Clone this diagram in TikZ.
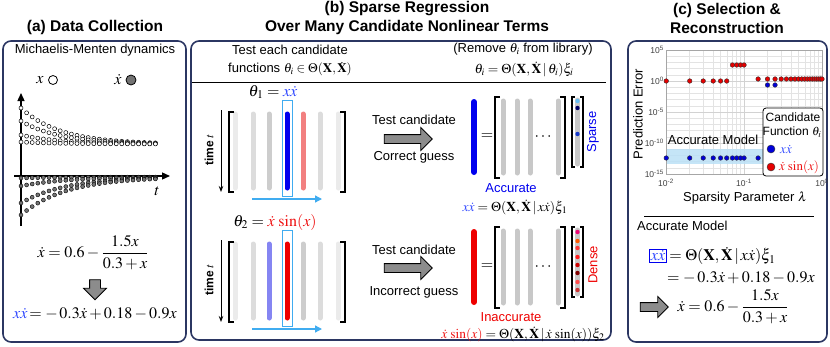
\documentclass[tikz,border=0pt]{standalone}
\usepackage{amsmath}
\usepackage{mathptmx}
\usepackage[no-math]{fontspec}
\setmainfont{Liberation Sans}
\usetikzlibrary{arrows.meta,shapes.arrows,positioning}

\definecolor{navy}{HTML}{2B3662}
\definecolor{gA}{HTML}{EBEBEB}
\definecolor{gB}{HTML}{DCDCDC}
\definecolor{gC}{HTML}{CDCDCD}
\definecolor{gM}{HTML}{C8C8C8}
\definecolor{pblue}{HTML}{0000EE}
\definecolor{pred}{HTML}{EE0000}
\definecolor{lred}{HTML}{F28080}
\definecolor{lblue}{HTML}{8585F2}
\definecolor{sky}{HTML}{40ACF0}
\definecolor{eqblue}{HTML}{3048FF}
\definecolor{eqred}{HTML}{EE1111}
\definecolor{band}{HTML}{BBE0F6}

\newcommand{\xd}{\dot{x}}
\newcommand{\Tht}{\boldsymbol{\Theta}}
\newcommand{\Xm}{\mathbf{X}}
\newcommand{\Xdm}{\dot{\mathbf{X}}}
\newcommand{\lamx}[1]{666+78*(log10(#1)+2)}
\newcommand{\erry}[1]{50+6.2*(5-(#1))}

\begin{document}
\begin{tikzpicture}[x=1pt, y=-1pt,
  pnl/.style={draw=navy, line width=1.6pt, rounded corners=8pt},
  ttl/.style={font=\fontsize{15.5}{19}\selectfont\bfseries, align=center},
  txt/.style={font=\fontsize{13}{15}\selectfont, inner sep=1pt},
  eq/.style={font=\fontsize{16}{18}\selectfont, inner sep=1pt},
  eqs/.style={font=\fontsize{13.5}{16}\selectfont, inner sep=1pt},
  bar/.style={line width=5pt, line cap=round},
  brk/.style={line width=1.2pt},
  garr/.style={single arrow, draw=black, fill=gray!90, line width=0.8pt,
    inner sep=4pt, single arrow head extend=7pt, minimum height=48pt},
  grd/.style={gray!22, line width=0.3pt},
  odot/.style={draw=black, fill=white, line width=0.5pt},
  fdot/.style={draw=black, fill=gray!90!black, line width=0.4pt},
  rdot/.style={draw=black!80, fill=red!90!black, line width=0.4pt},
  bdot/.style={draw=black!80, fill=blue!85!black, line width=0.4pt}]

\useasboundingbox (0,0) rectangle (830,346);

% --- (a) Data collection ---
\node[ttl] (ta) at (95,27) {(a) Data Collection};
\draw[pnl] (3,41) rectangle (186,342);
\node[txt] (mm) at (95,50) {Michaelis-Menten dynamics};
\node[eq] (lxa) at (40,80) {$x$};
\node[circle, odot, line width=0.8pt, minimum size=9pt, inner sep=0pt] (ox) at (53,80) {};
\node[eq] (lxb) at (118,80) {$\xd$};
\node[circle, fdot, line width=0.8pt, minimum size=10pt, inner sep=0pt] (fx) at (131,80) {};

\draw[line width=1.3pt, -{Triangle[length=8pt,width=7pt]}] (21,226) -- (21,93);
\draw[line width=1.3pt, -{Triangle[length=8pt,width=7pt]}] (14,176) -- (170,176);
\foreach \s in {108,121,135,142}
  \foreach \k in {0,...,24}
    \draw[odot] ({21+\k*5.6},{144+(\s-144)*exp(-\k/7)}) circle (2pt);
\foreach \s in {178,186,203,215}
  \foreach \k in {0,...,24}
    \draw[fdot] ({21+\k*5.6},{177+(\s-177)*exp(-\k/8)}) circle (2pt);
\node[eq] (tl) at (157,191) {$t$};

\node[eq] (eqa) at (93,253) {$\xd = 0.6 - \dfrac{1.5x}{0.3+x}$};
\node[garr, shape border rotate=270, minimum height=20pt, inner sep=5pt,
  single arrow head extend=6pt] (da) at (95,287) {};
\node[eq] (eqb) at (95,314) {$\textcolor{eqblue}{x\xd}\!=-\,0.3\xd+0.18-0.9x$};

% --- (b) Sparse regression ---
\node[ttl] (tb) at (407,18) {(b) Sparse Regression\\Over Many Candidate Nonlinear Terms};
\draw[pnl] (191,41) rectangle (611,340);
\node[txt] (h1) at (290,50) {Test each candidate};
\node[txt] (h2) at (290,69) {functions $\theta_i \in \Tht(\Xm,\Xdm)$};
\node[txt] (h3) at (523,49) {(Remove $\theta_i$ from library)};
\node[eqs] (h4) at (524,69) {$\theta_i = \Tht(\Xm,\Xdm\,|\,\theta_i)\xi_i$};
\draw[line width=0.9pt] (192,82) -- (606,82);

% row 1: correct guess
\node[eq] (th1) at (273,92) {$\theta_1 = \textcolor{eqblue}{x\xd}$};
\node[draw=sky, line width=1pt, minimum width=10pt, minimum height=96pt, inner sep=0pt] (hl1) at (287,148) {};
\foreach \x/\c in {235/gA,253/gB,269/gC,287/pblue,303/lred,320/gB,338/gA}
  \draw[bar, \c] (\x,114) -- (\x,188);
\draw[brk] (234,112) -| (229,192) -- (234,192);
\draw[brk] (340,112) -| (345,192) -- (340,192);
\draw[line width=1pt, -{Stealth[length=6pt]}] (221,110) -- (221,192);
\node[rotate=90, font=\fontsize{12}{14}\selectfont\bfseries] (ti1) at (209,150) {time $t$};
\draw[sky, line width=1.3pt, -{Triangle[length=7pt,width=7pt]}] (252,199) -- (322,199);

\node[txt] (tc1) at (414,120) {Test candidate};
\node[garr] (ga1) at (406,139) {};
\node[txt] (cg1) at (414,157) {Correct guess};

\draw[bar, pblue, line width=6pt] (474,102) -- (474,172);
\node[eq] (eq1) at (487,137) {$=$};
\draw[brk] (500,97) -| (495,178) -- (500,178);
\draw[brk] (560,97) -| (565,178) -- (560,178);
\foreach \x in {503,517,530,558}
  \draw[bar, gM] (\x,101) -- (\x,173);
\node[eq] (dt1) at (544,137) {$\cdots$};
\draw[bar, gM] (577.5,100) -- (577.5,164);
\draw[brk] (575,97) -| (572,167) -- (575,167);
\draw[brk] (580,97) -| (583,167) -- (580,167);
\fill[sky!80] (577.5,101) circle (2.2pt);
\fill[blue!40!black] (577.5,108) circle (2.2pt);
\fill[blue!60!sky!80!black] (577.5,134) circle (2.2pt);
\node[txt, rotate=90, pblue] (sp) at (593,132) {Sparse};
\node[txt, pblue] (acc) at (511,188) {Accurate};
\node[eqs] (r1) at (515,207) {$\textcolor{eqblue}{x\xd} = \Tht(\Xm,\Xdm\,|\,x\xd)\xi_1$};

% row 2: incorrect guess
\node[eq] (th2) at (275,222) {$\theta_2 = \textcolor{eqred}{\xd\,\sin(x)}$};
\node[draw=sky, line width=1pt, minimum width=10pt, minimum height=96pt, inner sep=0pt] (hl2) at (287,278) {};
\foreach \x/\c in {235/gA,253/gB,269/lblue,287/pred,303/gC,320/gB,338/gA}
  \draw[bar, \c] (\x,244) -- (\x,318);
\draw[brk] (234,242) -| (229,322) -- (234,322);
\draw[brk] (340,242) -| (345,322) -- (340,322);
\draw[line width=1pt, -{Stealth[length=6pt]}] (221,240) -- (221,322);
\node[rotate=90, font=\fontsize{12}{14}\selectfont\bfseries] (ti2) at (209,280) {time $t$};
\draw[sky, line width=1.3pt, -{Triangle[length=7pt,width=7pt]}] (252,329) -- (322,329);

\node[txt] (tc2) at (414,250) {Test candidate};
\node[garr] (ga2) at (406,268) {};
\node[txt] (cg2) at (414,292) {Incorrect guess};

\draw[bar, pred, line width=6pt] (474,232) -- (474,302);
\node[eq] (eq2) at (487,267) {$=$};
\draw[brk] (500,227) -| (495,308) -- (500,308);
\draw[brk] (560,227) -| (565,308) -- (560,308);
\foreach \x in {503,517,530,558}
  \draw[bar, gM] (\x,231) -- (\x,303);
\node[eq] (dt2) at (544,267) {$\cdots$};
\draw[bar, gM] (577.5,230) -- (577.5,294);
\draw[brk] (575,227) -| (572,297) -- (575,297);
\draw[brk] (580,227) -| (583,297) -- (580,297);
\foreach \y/\c in {232/magenta!80!red, 241/orange!70!red, 248/red!70!pink,
    257/red!85!pink, 265/red!80!black, 273/red!50!black, 282/red!60!pink, 290/red!60!gray}
  \fill[\c] (577.5,\y) circle (2.2pt);
\node[txt, rotate=90, pred] (dn) at (593,265) {Dense};
\node[txt, pred] (inacc) at (511,317) {Inaccurate};
\node[eqs] (r2) at (523,334) {$\textcolor{eqred}{\xd\,\sin(x)} = \Tht(\Xm,\Xdm\,|\,\xd\,\sin(x))\xi_2$};

% --- (c) Selection and reconstruction ---
\node[ttl] (tc) at (727,18) {(c) Selection \&\\Reconstruction};
\draw[pnl] (628,41) rectangle (827,342);

% plot grid
\foreach \d in {-2,-1}
  \foreach \m in {2,...,9}
    \draw[grd] ({666+78*(\d+2+log10(\m))},50) -- ++(0,124);
\foreach \k in {-14,...,4}
  \draw[grd] (666,{\erry{\k}}) -- (822,{\erry{\k}});
\foreach \k in {0,-5,-10}
  \draw[gray!35, line width=0.4pt] (666,{\erry{\k}}) -- (822,{\erry{\k}});
\draw[gray!35, line width=0.4pt] (744,50) -- (744,174);
\fill[band, opacity=0.85] (666,149) rectangle (766,164);
\draw[gray!70, line width=0.5pt] (666,50) rectangle (822,174);
\foreach \k in {5,0,-5,-10,-15}
  \node[font=\fontsize{8.5}{10}\selectfont, text=black!75, anchor=east, inner sep=1pt] at (665,{\erry{\k}}) {10\textsuperscript{\k}};
\foreach \d/\xx in {-2/666,-1/744,0/822}
  \node[font=\fontsize{8.5}{10}\selectfont, text=black!75, inner sep=1pt] at (\xx,183) {10\textsuperscript{\d}};
\node[txt, rotate=90] (yl) at (638,114) {Prediction Error};
\node[txt] (xl) at (745,198) {Sparsity Parameter $\lambda$};
\node[txt] (am) at (713,140) {Accurate Model};

% data points
\foreach \i in {1,2,3,4,5,6,7,8,9,10,15}
  \draw[bdot] ({\lamx{\i/100}},158) circle (2.3pt);
\foreach \i in {20,25}
  \draw[bdot] ({\lamx{\i/100}},85) circle (2.3pt);
\foreach \i in {1,...,6}
  \draw[rdot] ({\lamx{\i/100}},81) circle (2.3pt);
\foreach \i in {7,...,10}
  \draw[rdot] ({\lamx{\i/100}},65) circle (2.3pt);
\foreach \i in {3,...,20}
  \draw[rdot] ({\lamx{\i/20}},79) circle (2.3pt);

% legend
\node[draw, fill=white, rounded corners=3pt, line width=0.8pt, minimum width=60pt, minimum height=68pt] (leg) at (793,142) {};
\node[txt, font=\fontsize{12}{14}\selectfont] (lg1) at (793,117) {Candidate};
\node[txt, font=\fontsize{12}{14}\selectfont] (lg2) at (792,132) {Function $\theta_i$};
\node[circle, bdot, minimum size=8pt, inner sep=0pt] (lb) at (771,149) {};
\node[eq, font=\fontsize{13}{15}\selectfont, anchor=west, text=eqblue] (lbt) at (779,149) {$x\xd$};
\node[circle, rdot, minimum size=8pt, inner sep=0pt] (lr) at (771,167) {};
\node[eq, font=\fontsize{13}{15}\selectfont, anchor=west, text=eqred] (lrt) at (778,167) {$\xd\,\sin(x)$};

% accurate model
\draw[line width=0.8pt] (644,216) -- (814,216);
\node[txt, anchor=west] (amt) at (636,226) {Accurate Model};
\node[eq, draw=pblue, line width=1pt, inner sep=1.5pt] (bx) at (658,256) {$\textcolor{eqblue}{x\xd}$};
\node[eq, right=1pt of bx] (rc1) {$= \Tht(\Xm,\Xdm\,|\,x\xd)\xi_1$};
\node[eq, anchor=west] (rc2) at (666,278) {$=-\,0.3\xd+0.18-0.9x$};
\node[garr, minimum height=28pt, single arrow head extend=6pt] (ga3) at (652,307) {};
\node[eq] (rc3) at (733,307) {$\xd = 0.6 - \dfrac{1.5x}{0.3+x}$};

\end{tikzpicture}
\end{document}
